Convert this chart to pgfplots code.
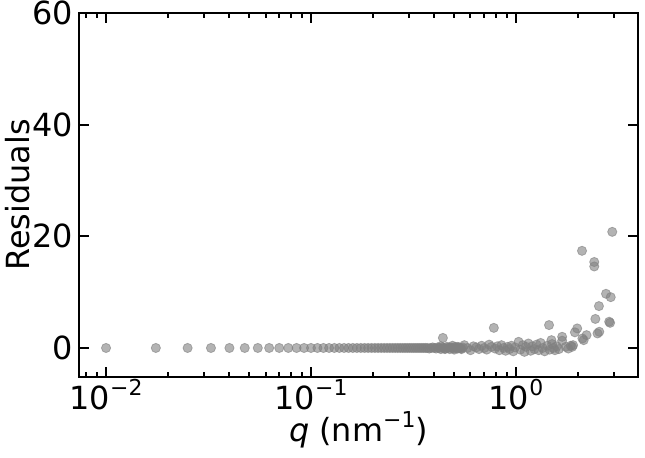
\documentclass[border=0pt]{standalone}
\usepackage{fontspec}
\setmainfont{DejaVu Sans}
\usepackage{pgfplots}
\pgfplotsset{compat=1.18}
\newcommand{\sups}[1]{\raisebox{0.42em}{\fontsize{22}{22}\selectfont #1}}

\begin{document}
\begin{tikzpicture}
\useasboundingbox (-79bp,-81bp) rectangle (566bp,377bp);
\begin{axis}[
    at={(0,0)}, anchor=south west,
    scale only axis,
    width=559bp, height=364bp,
    xmode=log,
    xmin=0.00738, xmax=3.94,
    ymin=-5.2, ymax=60,
    ytick={0,20,40,60},
    xtick={0.01,0.1,1},
    xticklabels={10\sups{−2},10\sups{−1},10\sups{0}},
    minor xtick={0.008,0.009,0.02,0.03,0.04,0.05,0.06,0.07,0.08,0.09,0.2,0.3,0.4,0.5,0.6,0.7,0.8,0.9,2,3},
    tick align=inside,
    axis line style={line width=2.4bp},
    major tick length=10bp,
    minor tick length=5.5bp,
    every tick/.style={black, line width=2bp},
    font=\fontsize{32}{36}\selectfont,
    /pgf/number format/assume math mode=true,
    xticklabel style={anchor=base, yshift=-32bp},
    yticklabel style={inner xsep=6bp},
    xlabel={\textit{q} (nm\sups{−1})},
    ylabel={Residuals},
    xlabel style={at={(axis description cs:0.5,0)}, anchor=base, yshift=-64bp},
    ylabel style={at={(axis description cs:0,0.5)}, anchor=south, yshift=46bp},
    clip=false,
]

% uniform low-q points
\addplot[only marks, mark=*, mark size=4.6bp,
    mark options={draw=gray, fill=gray, fill opacity=0.6, draw opacity=0.6, line width=0.8bp}]
table {
0.01 0
0.0175 0
0.025 0
0.0325 0
0.04 0
0.0475 0
0.055 0
0.0625 0
0.07 0
0.0775 0
0.085 0
0.0925 0
0.1 0
0.1075 0
0.115 0
0.1225 0
0.13 0
0.1375 0
0.145 0
0.1525 0
0.16 0
0.1675 0
0.175 0
0.1825 0
0.19 0
0.1975 0
0.205 0
0.2125 0
0.22 0
0.2275 0
0.235 0
0.2425 0
0.25 0
0.2575 0
0.265 0
0.2725 0
0.28 0
0.2875 0
0.295 0
0.3025 0
0.31 0
0.3175 0
0.325 0
0.3325 0
0.34 0
0.3475 0
0.355 0
0.3625 0
0.37 0
0.3775 -0.1
0.385 0
0.3925 0.1
0.4 0
0.4075 -0.1
0.415 0.1
0.4225 0
0.43 -0.2
0.4375 0.1
0.445 0
0.4525 -0.1
0.46 0.2
0.4675 0
0.475 -0.2
0.4825 0.1
0.49 0
0.4975 -0.1
0.505 0.2
0.5125 0
0.52 -0.1
0.5275 0.1
0.535 0
0.5425 -0.2
0.55 0.1
};

% scattered points at higher q
\addplot[only marks, mark=*, mark size=4.6bp,
    mark options={draw=gray, fill=gray, fill opacity=0.6, draw opacity=0.6, line width=0.8bp}]
table {
0.43 0.3
0.44 1.8
0.45 -0.2
0.47 0.1
0.49 0.4
0.50 -0.3
0.52 0.2
0.54 -0.1
0.56 0.5
0.58 0.0
0.60 -0.4
0.62 0.3
0.64 0.1
0.66 -0.2
0.68 0.4
0.70 0.0
0.72 -0.3
0.74 0.6
0.76 0.2
0.78 3.6
0.79 -0.1
0.81 0.3
0.83 -0.4
0.85 0.5
0.87 0.0
0.89 -0.5
0.91 0.2
0.93 -0.2
0.95 0.4
0.97 -0.6
0.99 0.1
1.03 1.1
1.05 -0.3
1.08 0.5
1.10 -0.7
1.12 0.2
1.15 0.8
1.18 -0.5
1.20 0.3
1.23 -0.2
1.26 0.6
1.29 -0.4
1.32 0.9
1.35 0.0
1.38 -0.6
1.42 0.4
1.45 4.1
1.46 -0.3
1.49 1.4
1.50 0.7
1.52 0.0
1.55 -0.4
1.58 0.3
1.62 -0.2
1.68 2.0
1.68 1.3
1.75 0.2
1.80 -0.1
1.85 0.4
1.88 0.2
1.90 0.5
1.94 2.8
1.99 3.5
2.10 17.4
2.11 1.7
2.14 1.4
2.21 2.3
2.41 15.4
2.41 14.6
2.44 5.2
2.50 2.6
2.55 2.9
2.54 7.5
2.75 9.7
2.85 4.7
2.88 4.5
2.90 9.1
2.95 20.8
};

\end{axis}
\end{tikzpicture}
\end{document}
